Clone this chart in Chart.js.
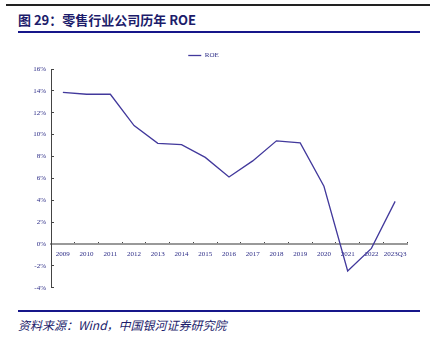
<!DOCTYPE html>
<html>
<head>
<meta charset="utf-8">
<script src="https://cdn.jsdelivr.net/npm/chart.js@4.4.0/dist/chart.umd.min.js"></script>
<style>
  body { margin: 0; background: #fff; width: 430px; height: 337px; position: relative; overflow: hidden; }
  .topline { position: absolute; left: 6px; top: 4px; width: 424px; height: 2px; background: #222; }
  .title { position: absolute; left: 18px; top: 10px; font: bold 13px "Noto Sans CJK SC", sans-serif; color: #1c1c6b; }
  .blueline { position: absolute; left: 18px; width: 402px; height: 2px; background: #16168a; }
  .source { position: absolute; left: 18px; top: 316px; font: italic 12px "Noto Sans CJK SC", sans-serif; color: #1c1c6b; }
  #wrap { position: absolute; left: 0; top: 40px; width: 430px; height: 260px; }
</style>
</head>
<body>
<div class="topline"></div>
<div class="title">图 29：零售行业公司历年 ROE</div>
<div class="blueline" style="top:31px"></div>
<div id="wrap"><canvas id="c"></canvas></div>
<div class="blueline" style="top:310px"></div>
<div class="source">资料来源：Wind，中国银河证券研究院</div>
<script>
// 零售行业 ROE (%)
const years = ['2009', '2010', '2011', '2012', '2013', '2014', '2015', '2016', '2017', '2018', '2019', '2020', '2021', '2022', '2023Q3'];
const roe = [13.87, 13.69, 13.69, 10.83, 9.21, 9.08, 7.92, 6.13, 7.6, 9.43, 9.24, 5.28, -2.46, -0.4, 3.9];

const txt = '#2b2b86';
const serif = '"Liberation Serif", "Times New Roman", serif';

new Chart(document.getElementById('c'), {
  type: 'line',
  data: {
    labels: years,
    datasets: [{
      label: 'ROE',
      data: roe,
      borderColor: '#42399c',
      backgroundColor: '#42399c',
      borderWidth: 1.3,
      pointRadius: 0,
      tension: 0
    }]
  },
  options: {
    responsive: true,
    maintainAspectRatio: false,
    animation: false,
    layout: { padding: { top: 0, right: 23, bottom: 12, left: 0 } },
    plugins: {
      legend: {
        labels: {
          usePointStyle: true,
          pointStyle: 'line',
          pointStyleWidth: 13,
          boxHeight: 7,
          padding: 12,
          color: txt,
          font: { family: serif, size: 7 }
        }
      },
      tooltip: { enabled: false }
    },
    scales: {
      x: {
        position: { y: 0 },
        offset: true,
        grid: { offset: true, drawOnChartArea: false, drawTicks: true, tickLength: -3, color: '#444' },
        border: { color: '#999', width: 2 },
        ticks: { color: txt, font: { family: serif, size: 7 }, padding: 9, maxRotation: 0, autoSkip: false }
      },
      y: {
        min: -4,
        max: 16,
        afterFit: s => { s.width = 51; },
        grid: { drawOnChartArea: false, drawTicks: true, tickLength: -3, color: '#444' },
        border: { color: '#444', width: 1 },
        ticks: {
          stepSize: 2,
          color: txt,
          font: { family: serif, size: 7 },
          padding: 8,
          callback: v => v + '%'
        }
      }
    }
  }
});
</script>
</body>
</html>
